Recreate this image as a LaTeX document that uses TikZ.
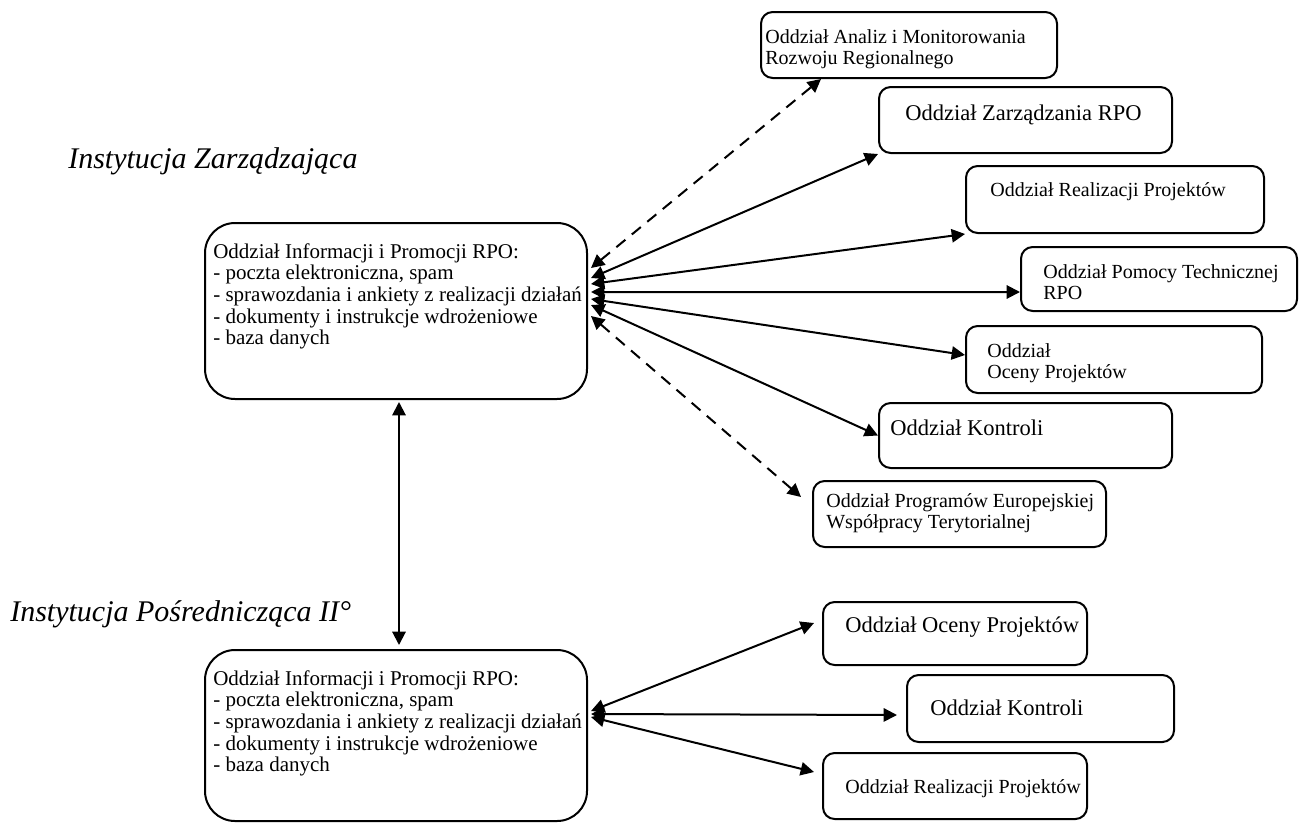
\documentclass[tikz,border=0pt]{standalone}
\usepackage{fontspec}
\setmainfont{Liberation Serif}
\usetikzlibrary{arrows.meta,fit}
\begin{document}
\begin{tikzpicture}[x=0.6pt,y=-0.6pt,
  box/.style={draw, line width=1.2pt, rounded corners=7pt, inner sep=0pt},
  mainbox/.style={box, rounded corners=18pt},
  txt/.style={anchor=base west, inner sep=0pt, font=\fontsize{12}{13}\selectfont},
  maintxt/.style={anchor=base west, inner sep=0pt, font=\fontsize{12.6}{13}\selectfont},
  bigtxt/.style={anchor=base west, inner sep=0pt, font=\fontsize{13.5}{15}\selectfont},
  head/.style={anchor=base west, inner sep=0pt, font=\fontsize{18}{20}\selectfont\itshape},
  conn/.style={line width=1.2pt, {Triangle[length=8pt,width=8pt]}-{Triangle[length=8pt,width=8pt]}},
  dconn/.style={conn, dash pattern=on 7pt off 5pt}]
\useasboundingbox (0,0) rectangle (1309,823);
\fill[white] (0,0) rectangle (1309,823);

% headings
\node[head] (hiz) at (68,168) {Instytucja Zarządzająca};
\node[head] (hip) at (10,621) {Instytucja Pośrednicząca II°};

% main boxes
\node[mainbox, fit={(205,223)(587,399)}] (iz) {};
\node[maintxt] (izT) at (213,258) {\begin{tabular}[t]{@{}l@{}}Oddział Informacji i Promocji RPO:\\- poczta elektroniczna, spam\\- sprawozdania i ankiety z realizacji działań\\- dokumenty i instrukcje wdrożeniowe\\- baza danych\end{tabular}};
\node[mainbox, fit={(205,650)(587,821)}] (ip) {};
\node[maintxt] (ipT) at (213,685) {\begin{tabular}[t]{@{}l@{}}Oddział Informacji i Promocji RPO:\\- poczta elektroniczna, spam\\- sprawozdania i ankiety z realizacji działań\\- dokumenty i instrukcje wdrożeniowe\\- baza danych\end{tabular}};

% upper departments
\node[box, fit={(761,12)(1057,78)}] (analiz) {};
\node[txt] at (765,43) {\begin{tabular}[t]{@{}l@{}}Oddział Analiz i Monitorowania\\Rozwoju Regionalnego\end{tabular}};
\node[box, fit={(879,87)(1172,153)}] (zarz) {};
\node[bigtxt] at (905,120) {Oddział Zarządzania RPO};
\node[box, fit={(966,166)(1264,233)}] (real) {};
\node[txt] at (990,196) {Oddział Realizacji Projektów};
\node[box, fit={(1021,247)(1297,311)}] (pomoc) {};
\node[txt] at (1043,278) {\begin{tabular}[t]{@{}l@{}}Oddział Pomocy Technicznej\\RPO\end{tabular}};
\node[box, fit={(966,326)(1262,393)}] (ocena) {};
\node[txt] at (987,357) {\begin{tabular}[t]{@{}l@{}}Oddział\\Oceny Projektów\end{tabular}};
\node[box, fit={(879,403)(1172,468)}] (kontr) {};
\node[bigtxt] at (890,435) {Oddział Kontroli};
\node[box, fit={(813,481)(1106,547)}] (progr) {};
\node[txt] at (826,507) {\begin{tabular}[t]{@{}l@{}}Oddział Programów Europejskiej\\Współpracy Terytorialnej\end{tabular}};

% lower departments
\node[box, fit={(823,602)(1087,665)}] (bocena) {};
\node[bigtxt] at (845,632) {Oddział Oceny Projektów};
\node[box, fit={(907,675)(1174,742)}] (bkontr) {};
\node[bigtxt] at (930,715) {Oddział Kontroli};
\node[box, fit={(823,753)(1087,819)}] (breal) {};
\node[txt] at (845,793) {Oddział Realizacji Projektów};

% connectors upper
\draw[dconn] ([xshift=1.8pt,yshift=25.8pt]iz.east) -- ([xshift=36.6pt]analiz.south west);
\draw[conn]  ([xshift=1.8pt,yshift=19.8pt]iz.east) -- (zarz.south west);
\draw[conn]  ([xshift=1.8pt,yshift=16.2pt]iz.east) -- (real.south west);
\draw[conn]  ([xshift=1.8pt,yshift=11.4pt]iz.east) -- ([yshift=-7.8pt]pomoc.west);
\draw[conn]  ([xshift=1.8pt,yshift=7.2pt]iz.east) -- ([yshift=2.7pt]ocena.west);
\draw[conn]  ([xshift=1.8pt,yshift=3.6pt]iz.east) -- (kontr.west);
\draw[dconn] ([xshift=1.8pt,yshift=-3pt]iz.east) -- ([xshift=-6.6pt,yshift=-10.2pt]progr.north west);

% vertical
\draw[conn] ([xshift=1.8pt,yshift=-1.2pt]iz.south) -- ([xshift=1.8pt,yshift=2.4pt]ip.north);

% connectors lower
\draw[conn] ([xshift=1.8pt,yshift=14.7pt]ip.east) -- ([xshift=-4.8pt,yshift=6.3pt]bocena.west);
\draw[conn] ([xshift=1.8pt,yshift=12.9pt]ip.east) -- ([xshift=-5.4pt,yshift=-3.9pt]bkontr.west);
\draw[conn] ([xshift=1.8pt,yshift=11.1pt]ip.east) -- ([xshift=-4.8pt,yshift=-12pt]breal.north west);
\end{tikzpicture}
\end{document}
